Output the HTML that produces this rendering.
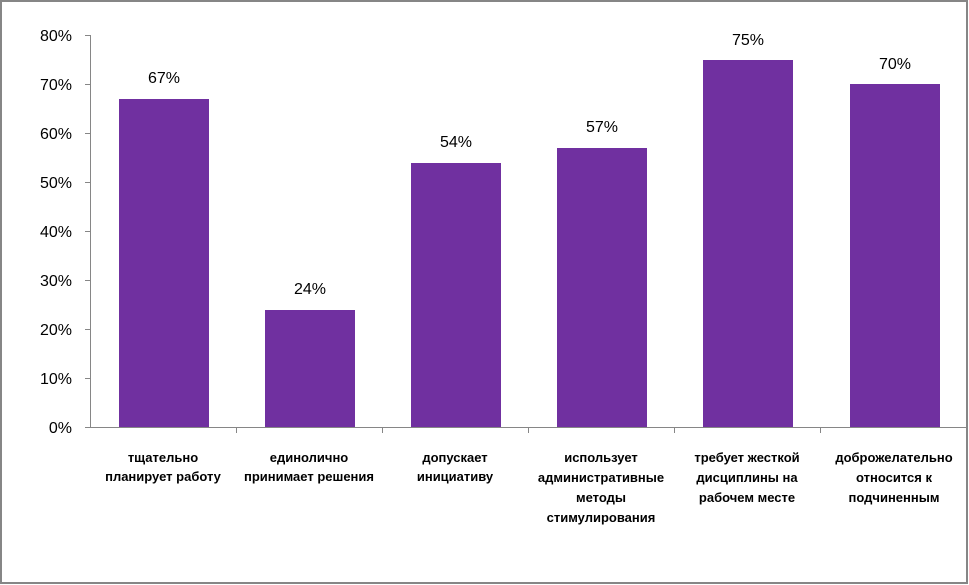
<!DOCTYPE html>
<html><head><meta charset="utf-8"><style>
body{margin:0;background:#fff;}
svg{display:block;}
</style></head><body>
<svg width="969" height="585" xmlns="http://www.w3.org/2000/svg" font-family="Liberation Sans, sans-serif">
<rect x="1" y="1" width="966" height="582" fill="#fff" stroke="#868686" stroke-width="2"/>
<g fill="#000" font-size="16" text-anchor="end">
<text x="72" y="433">0%</text>
<text x="72" y="384">10%</text>
<text x="72" y="335">20%</text>
<text x="72" y="286">30%</text>
<text x="72" y="237">40%</text>
<text x="72" y="188">50%</text>
<text x="72" y="139">60%</text>
<text x="72" y="90">70%</text>
<text x="72" y="41">80%</text>
</g>
<g stroke="#868686" stroke-width="1">
<line x1="90.5" y1="35" x2="90.5" y2="428"/>
<line x1="85" y1="427.5" x2="966" y2="427.5"/>
<line x1="85" y1="378.5" x2="90" y2="378.5"/>
<line x1="85" y1="329.5" x2="90" y2="329.5"/>
<line x1="85" y1="280.5" x2="90" y2="280.5"/>
<line x1="85" y1="231.5" x2="90" y2="231.5"/>
<line x1="85" y1="182.5" x2="90" y2="182.5"/>
<line x1="85" y1="133.5" x2="90" y2="133.5"/>
<line x1="85" y1="84.5" x2="90" y2="84.5"/>
<line x1="85" y1="35.5" x2="90" y2="35.5"/>
<line x1="236.5" y1="427" x2="236.5" y2="433"/>
<line x1="382.5" y1="427" x2="382.5" y2="433"/>
<line x1="528.5" y1="427" x2="528.5" y2="433"/>
<line x1="674.5" y1="427" x2="674.5" y2="433"/>
<line x1="820.5" y1="427" x2="820.5" y2="433"/>
<line x1="966.5" y1="427" x2="966.5" y2="433"/>
</g>
<g fill="#7030A0">
<rect x="119" y="99" width="90" height="328"/>
<rect x="265" y="310" width="90" height="117"/>
<rect x="411" y="163" width="90" height="264"/>
<rect x="557" y="148" width="90" height="279"/>
<rect x="703" y="60" width="90" height="367"/>
<rect x="850" y="84" width="90" height="343"/>
</g>
<g font-size="16" text-anchor="middle" fill="#000">
<text x="164" y="83">67%</text>
<text x="310" y="294">24%</text>
<text x="456" y="147">54%</text>
<text x="602" y="132">57%</text>
<text x="748" y="45">75%</text>
<text x="895" y="69">70%</text>
</g>
<g font-size="13" font-weight="bold" text-anchor="middle" fill="#000">
<text x="163" y="462">тщательно</text><text x="163" y="481">планирует работу</text>
<text x="309" y="462">единолично</text><text x="309" y="481">принимает решения</text>
<text x="455" y="462">допускает</text><text x="455" y="481">инициативу</text>
<text x="601" y="462">использует</text><text x="601" y="482">административные</text><text x="601" y="502">методы</text><text x="601" y="522">стимулирования</text>
<text x="747" y="462">требует жесткой</text><text x="747" y="482">дисциплины на</text><text x="747" y="502">рабочем месте</text>
<text x="894" y="462">доброжелательно</text><text x="894" y="482">относится к</text><text x="894" y="502">подчиненным</text>
</g>
</svg>
</body></html>
